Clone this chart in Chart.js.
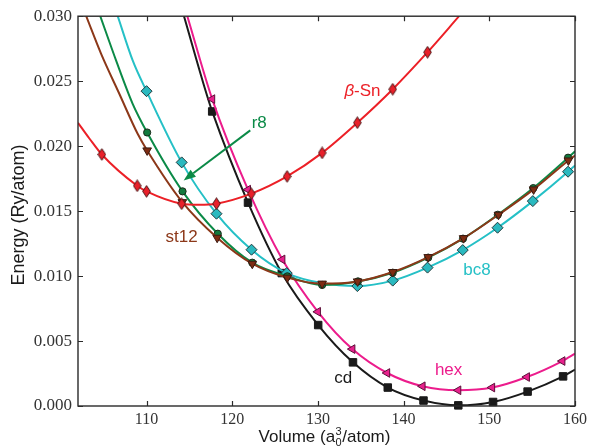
<!DOCTYPE html>
<html><head><meta charset="utf-8">
<script src="https://cdn.jsdelivr.net/npm/chart.js@4.4.1/dist/chart.umd.min.js"></script>
<style>html,body{margin:0;padding:0;background:#fff}canvas{display:block}</style>
</head><body>
<canvas id="c" width="591" height="446"></canvas>
<script>
// ---------- data ----------
const xTicks = [110, 120, 130, 140, 150, 160];
const yTicks = [0.000, 0.005, 0.010, 0.015, 0.020, 0.025, 0.030];

// beta-Sn
const betaSnV = [104.78, 108.91, 110.0, 114.1, 118.16, 122.22, 126.4, 130.49, 134.6, 138.73, 142.79];
const betaSnE = [0.01936, 0.01695, 0.01652, 0.01557, 0.01557, 0.01634, 0.01767, 0.01948, 0.0218, 0.02438, 0.02723];
const betaSnFitV = [102.0, 103.35, 104.78, 108.91, 110.0, 114.1, 116.1, 118.16, 122.22, 126.4, 130.49, 134.6, 138.73, 142.79, 146.47];
const betaSnFitE = [0.0218, 0.02057, 0.01936, 0.01695, 0.01652, 0.01557, 0.01549, 0.01557, 0.01634, 0.01767, 0.01948, 0.0218, 0.02438, 0.02723, 0.030];

// st12
const st12V = [110.07, 114.18, 118.24, 122.34, 126.43, 130.49, 134.63, 138.73, 142.87, 147.0, 151.07, 155.17, 159.23];
const st12E = [0.01967, 0.01569, 0.01295, 0.01095, 0.00988, 0.00942, 0.00959, 0.01031, 0.01146, 0.01292, 0.01472, 0.01667, 0.0189];
const st12FitV = [102.96, 104.7, 106.82, 108.96, 110.07, 114.18, 118.24, 122.34, 126.43, 130.49, 134.63, 138.73, 142.87, 147.0, 151.07, 155.17, 159.23, 160.0];
const st12FitE = [0.030, 0.0271, 0.02403, 0.02095, 0.01967, 0.01569, 0.01295, 0.01095, 0.00988, 0.00942, 0.00959, 0.01031, 0.01146, 0.01292, 0.01472, 0.01667, 0.0189, 0.01928];

// r8
const r8V = [110.07, 114.2, 118.31, 122.34, 126.43, 130.49, 134.67, 138.73, 142.87, 146.93, 150.99, 155.13, 159.19];
const r8E = [0.02105, 0.01652, 0.01326, 0.01103, 0.00998, 0.00932, 0.00959, 0.01026, 0.01142, 0.01288, 0.01472, 0.01677, 0.01911];
const r8FitV = [104.6, 106.44, 108.38, 110.07, 114.2, 118.31, 122.34, 126.43, 130.49, 134.67, 138.73, 142.87, 146.93, 150.99, 155.13, 159.19, 160.0];
const r8FitE = [0.030, 0.0266, 0.02326, 0.02105, 0.01652, 0.01326, 0.01103, 0.00998, 0.00932, 0.00959, 0.01026, 0.01142, 0.01288, 0.01472, 0.01677, 0.01911, 0.0196];

// bc8
const bc8V = [110.0, 114.1, 118.16, 122.25, 126.36, 134.6, 138.73, 142.79, 146.9, 150.96, 155.08, 159.19];
const bc8E = [0.02423, 0.01875, 0.0148, 0.01203, 0.01023, 0.00923, 0.00965, 0.01065, 0.012, 0.01372, 0.01577, 0.01803];
const bc8FitV = [106.64, 108.38, 110.0, 114.1, 118.16, 122.25, 126.36, 130.45, 134.6, 138.73, 142.79, 146.9, 150.96, 155.08, 159.19, 160.0];
const bc8FitE = [0.030, 0.0266, 0.02423, 0.01875, 0.0148, 0.01203, 0.01023, 0.00946, 0.00923, 0.00965, 0.01065, 0.012, 0.01372, 0.01577, 0.01803, 0.01852];

// hex
const hexV = [117.66, 121.84, 125.85, 130.0, 134.02, 138.08, 142.21, 146.38, 150.33, 154.39, 158.53];
const hexE = [0.02362, 0.01665, 0.01128, 0.00725, 0.00438, 0.00254, 0.00152, 0.00121, 0.00142, 0.00223, 0.00346];
const hexFitV = [114.76, 117.66, 121.84, 125.85, 130.0, 134.02, 138.08, 142.21, 146.38, 150.33, 154.39, 158.53, 160.0];
const hexFitE = [0.030, 0.02362, 0.01665, 0.01128, 0.00725, 0.00438, 0.00254, 0.00152, 0.00121, 0.00142, 0.00223, 0.00346, 0.00403];

// cd
const cdV = [117.66, 121.84, 125.78, 130.03, 134.09, 138.15, 142.32, 146.38, 150.44, 154.47, 158.61];
const cdE = [0.02267, 0.01565, 0.01023, 0.00623, 0.00336, 0.00142, 0.00042, 0.00005, 0.00031, 0.00111, 0.00228];
const cdFitV = [114.37, 116.88, 117.66, 121.84, 125.78, 130.03, 134.09, 138.15, 142.32, 146.38, 150.44, 154.47, 158.61, 160.0];
const cdFitE = [0.030, 0.02428, 0.02267, 0.01565, 0.01023, 0.00623, 0.00336, 0.00142, 0.00042, 0.00005, 0.00031, 0.00111, 0.00228, 0.0028];

// ---------- styling ----------
const C = {
  red: '#ec2027', green: '#0b8a47', cyan: '#25c0c6', brown: '#8c3819', magenta: '#ec1c8c', black: '#1a1a1a'
};
const xy = (V, E) => V.map((v, i) => ({x: v, y: E[i]}));

function narrowDiamond(fill, stroke) {
  const cv = document.createElement('canvas');
  cv.width = 9; cv.height = 13;
  const g = cv.getContext('2d');
  g.beginPath();
  g.moveTo(4.5, 0.7); g.lineTo(8.3, 6.5); g.lineTo(4.5, 12.3); g.lineTo(0.7, 6.5); g.closePath();
  g.fillStyle = fill; g.fill();
  g.lineWidth = 1; g.strokeStyle = stroke; g.stroke();
  return cv;
}

function lineDs(V, E, color, order) {
  return {type: 'line', data: xy(V, E), borderColor: color, borderWidth: 2, pointRadius: 0,
    cubicInterpolationMode: 'monotone', fill: false, order: order};
}
function markDs(V, E, opts, order) {
  return Object.assign({type: 'line', data: xy(V, E), showLine: false, clip: false, order: order,
    pointBorderWidth: 1, pointHoverRadius: 0}, opts);
}

const datasets = [
  lineDs(betaSnFitV, betaSnFitE, C.red, 2),
  markDs(betaSnV, betaSnE, {pointStyle: narrowDiamond('#e8202a', '#4a1515'), pointRadius: 5}, 1),
  lineDs(st12FitV, st12FitE, C.brown, 4),
  markDs(st12V, st12E, {pointStyle: 'triangle', pointRotation: 180, pointRadius: 5,
    pointBackgroundColor: '#7e2c12', pointBorderColor: '#3a1a10'}, 3),
  lineDs(r8FitV, r8FitE, C.green, 6),
  markDs(r8V, r8E, {pointStyle: 'circle', pointRadius: 3.6,
    pointBackgroundColor: '#127a3e', pointBorderColor: '#1a2a1a'}, 5),
  lineDs(bc8FitV, bc8FitE, C.cyan, 8),
  markDs(bc8V, bc8E, {pointStyle: 'rectRot', pointRadius: 5.5,
    pointBackgroundColor: '#2ab9bf', pointBorderColor: '#1e3a3c'}, 7),
  lineDs(hexFitV, hexFitE, C.magenta, 10),
  markDs(hexV, hexE, {pointStyle: 'triangle', pointRotation: -90, pointRadius: 5,
    pointBackgroundColor: '#e8208c', pointBorderColor: '#5a1038'}, 9),
  lineDs(cdFitV, cdFitE, C.black, 12),
  markDs(cdV, cdE, {pointStyle: 'rect', pointRadius: 5.3,
    pointBackgroundColor: '#1a1a1a', pointBorderColor: '#1a1a1a'}, 11)
];

// annotation positions in data units
const labels = [
  {parts: [['β', 'italic 17px "Liberation Sans"'], ['-Sn', '17px "Liberation Sans"']], x: 135.2, y: 0.0242, color: C.red},
  {parts: [['r8', '17px "Liberation Sans"']], x: 123.15, y: 0.02178, color: C.green},
  {parts: [['st12', '17px "Liberation Sans"']], x: 114.1, y: 0.01298, color: C.brown},
  {parts: [['bc8', '17px "Liberation Sans"']], x: 148.55, y: 0.01044, color: C.cyan},
  {parts: [['hex', '17px "Liberation Sans"']], x: 145.25, y: 0.00275, color: C.magenta},
  {parts: [['cd', '17px "Liberation Sans"']], x: 132.95, y: 0.00213, color: C.black}
];
const arrowFrom = {x: 122.1, y: 0.02121};
const arrowTo = {x: 114.33, y: 0.01736};

const frame = {
  id: 'frame',
  afterDraw(chart) {
    const {ctx, chartArea: a, scales: {x, y}} = chart;
    ctx.save();
    // box
    ctx.strokeStyle = '#2a2a2a'; ctx.lineWidth = 1.4;
    ctx.strokeRect(a.left, a.top, a.right - a.left, a.bottom - a.top);
    // inward ticks
    ctx.lineWidth = 1.2; ctx.beginPath();
    xTicks.forEach(v => {
      const px = Math.round(x.getPixelForValue(v)) + 0.5;
      ctx.moveTo(px, a.bottom); ctx.lineTo(px, a.bottom - 5);
      ctx.moveTo(px, a.top); ctx.lineTo(px, a.top + 5);
    });
    yTicks.forEach(v => {
      const py = Math.round(y.getPixelForValue(v)) + 0.5;
      ctx.moveTo(a.left, py); ctx.lineTo(a.left + 5, py);
      ctx.moveTo(a.right, py); ctx.lineTo(a.right - 5, py);
    });
    ctx.stroke();

    // series labels
    ctx.textBaseline = 'middle';
    labels.forEach(l => {
      let total = 0;
      l.parts.forEach(p => { ctx.font = p[1]; total += ctx.measureText(p[0]).width; });
      let cx = x.getPixelForValue(l.x) - total / 2;
      const cy = y.getPixelForValue(l.y);
      ctx.fillStyle = l.color; ctx.textAlign = 'left';
      l.parts.forEach(p => { ctx.font = p[1]; ctx.fillText(p[0], cx, cy); cx += ctx.measureText(p[0]).width; });
    });

    // r8 arrow
    const x0 = x.getPixelForValue(arrowFrom.x), y0 = y.getPixelForValue(arrowFrom.y);
    const x1 = x.getPixelForValue(arrowTo.x), y1 = y.getPixelForValue(arrowTo.y);
    const ang = Math.atan2(y1 - y0, x1 - x0);
    const hl = 12, hw = 4.5;
    const bx = x1 - hl * Math.cos(ang), by = y1 - hl * Math.sin(ang);
    ctx.strokeStyle = C.green; ctx.fillStyle = C.green; ctx.lineWidth = 2;
    ctx.beginPath(); ctx.moveTo(x0, y0); ctx.lineTo(bx, by); ctx.stroke();
    ctx.beginPath();
    ctx.moveTo(x1, y1);
    ctx.lineTo(bx + hw * Math.sin(ang), by - hw * Math.cos(ang));
    ctx.lineTo(bx - hw * Math.sin(ang), by + hw * Math.cos(ang));
    ctx.closePath(); ctx.fill();

    // axis titles
    ctx.fillStyle = '#1a1a1a';
    const f = '17px "Liberation Sans"', fs = '11px "Liberation Sans"';
    const t1 = 'Volume (a', t2 = '/atom)';
    ctx.font = f; const w1 = ctx.measureText(t1).width, w2 = ctx.measureText(t2).width;
    ctx.font = fs; const ws = ctx.measureText('3').width + 1;
    const cxT = (a.left + a.right) / 2 - 2;
    let sx = cxT - (w1 + ws + w2) / 2;
    const base = 442;
    ctx.textBaseline = 'alphabetic'; ctx.textAlign = 'left';
    ctx.font = f; ctx.fillText(t1, sx, base); sx += w1;
    ctx.font = fs; ctx.fillText('3', sx + 0.5, base - 7); ctx.fillText('0', sx + 0.5, base + 4); sx += ws;
    ctx.font = f; ctx.fillText(t2, sx, base);

    ctx.translate(19, (a.top + a.bottom) / 2 + 4);
    ctx.rotate(-Math.PI / 2);
    ctx.textAlign = 'center'; ctx.textBaseline = 'middle';
    ctx.font = '18px "Liberation Sans"'; ctx.fillText('Energy (Ry/atom)', 0, 0);
    ctx.restore();
  }
};

new Chart(document.getElementById('c'), {
  type: 'line',
  data: {datasets: datasets},
  options: {
    responsive: false, animation: false, devicePixelRatio: 1,
    layout: {padding: {top: 16, right: 13, left: 0, bottom: 0}},
    plugins: {legend: {display: false}, tooltip: {enabled: false}},
    events: [],
    scales: {
      x: {
        type: 'linear', min: 102, max: 160,
        afterBuildTicks: s => { s.ticks = xTicks.map(v => ({value: v})); },
        afterFit: s => { s.height = 40; },
        grid: {display: false, drawTicks: false}, border: {display: false},
        ticks: {padding: 4, color: '#333', font: {family: '"Liberation Serif"', size: 16},
          callback: v => String(v), maxRotation: 0, autoSkip: false}
      },
      y: {
        type: 'linear', min: 0, max: 0.03,
        afterBuildTicks: s => { s.ticks = yTicks.map(v => ({value: v})); },
        afterFit: s => { s.width = 78; },
        grid: {display: false, drawTicks: false}, border: {display: false},
        ticks: {padding: 6, color: '#333', font: {family: '"Liberation Serif"', size: 17},
          callback: v => v.toFixed(3), autoSkip: false}
      }
    }
  },
  plugins: [frame]
});
</script>
</body></html>
